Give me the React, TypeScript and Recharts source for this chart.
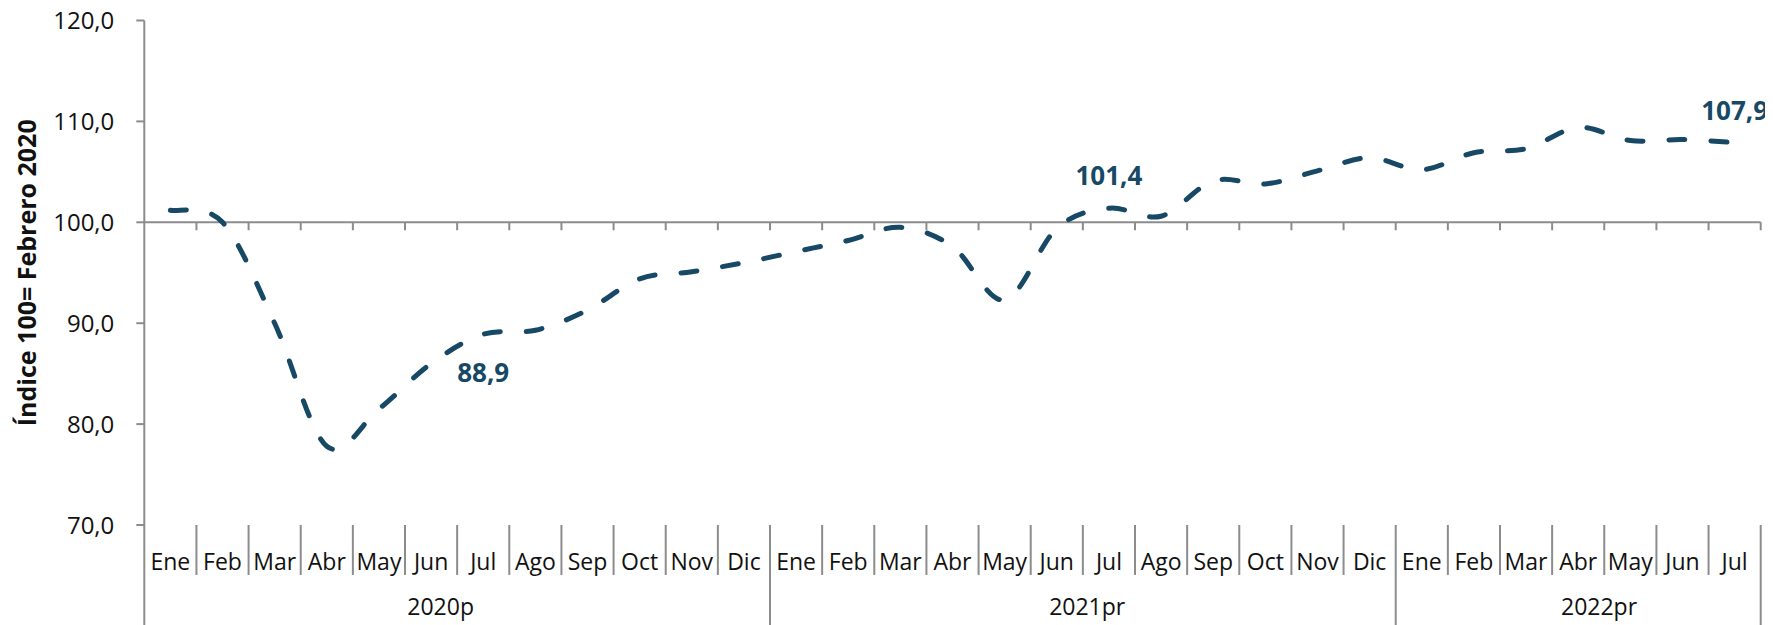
import React from 'react';
import { LineChart, Line, XAxis, YAxis, ReferenceLine, LabelList, Label } from 'recharts';

// ---- data ----
const monthNames = ['Ene', 'Feb', 'Mar', 'Abr', 'May', 'Jun', 'Jul', 'Ago', 'Sep', 'Oct', 'Nov', 'Dic'];
const yearLabels = ['2020p', '2021pr', '2022pr'];
const monthsPerYear = [12, 12, 7];
const values2020 = [101.2, 100.0, 90.0, 77.8, 81.5, 86.0, 88.9, 89.3, 91.3, 94.4, 95.1, 96.0];
const values2021 = [97.1, 98.2, 99.5, 97.6, 92.3, 99.4, 101.4, 100.6, 104.1, 103.8, 105.1, 106.4];
const values2022 = [105.2, 106.9, 107.3, 109.4, 108.1, 108.2, 107.9];
const yTicks = [70, 80, 90, 100, 110, 120];
const labeledPoints = [
  { index: 6, text: '88,9', pos: 'below' },
  { index: 18, text: '101,4', pos: 'above' },
  { index: 30, text: '107,9', pos: 'above' },
];
const yAxisTitle = 'Índice 100= Febrero 2020';

// ---- derived ----
const values = [...values2020, ...values2021, ...values2022];
const monthLabels = monthsPerYear.flatMap((n) => monthNames.slice(0, n));
const data = values.map((v, i) => {
  const lp = labeledPoints.find((p) => p.index === i);
  return { idx: i, value: v, label: lp ? lp.text : null, pos: lp ? lp.pos : null };
});
const yearBounds: number[] = [-0.5];
{
  let acc = 0;
  monthsPerYear.forEach((n) => {
    acc += n;
    yearBounds.push(acc - 0.5);
  });
}
const yearCenters = monthsPerYear.map((_, k) => (yearBounds[k] + yearBounds[k + 1]) / 2);
const allBounds = values.map((_, i) => i + 0.5);
const monthBounds = allBounds.filter((b) => !yearBounds.includes(b));

const LINE_COLOR = '#174865';
const AXIS_COLOR = '#8c8c8c';
const TEXT_COLOR = '#111111';
const AXIS_MIN = 70;
const SEP_MONTH_END = 65.05;
const SEP_YEAR_END = 59.8;
const TICK_END = 99.21;

// Excel-like smoothing (Catmull-Rom bezier)
const excelCurve = (context: any) => {
  let pts: number[][] = [];
  return {
    areaStart() {},
    areaEnd() {},
    lineStart() {
      pts = [];
    },
    point(x: number, y: number) {
      pts.push([+x, +y]);
    },
    lineEnd() {
      const n = pts.length;
      if (!n) return;
      context.moveTo(pts[0][0], pts[0][1]);
      for (let i = 0; i < n - 1; i++) {
        const p0 = pts[i - 1] || pts[i];
        const p1 = pts[i];
        const p2 = pts[i + 1];
        const p3 = pts[i + 2] || p2;
        context.bezierCurveTo(
          p1[0] + (p2[0] - p0[0]) / 6,
          p1[1] + (p2[1] - p0[1]) / 6,
          p2[0] - (p3[0] - p1[0]) / 6,
          p2[1] - (p3[1] - p1[1]) / 6,
          p2[0],
          p2[1]
        );
      }
    },
  };
};

const MonthTick = (props: any) => {
  const { x, y, payload } = props;
  return (
    <text x={x} y={y + 45} textAnchor="middle" fontSize={23} fill={TEXT_COLOR}>
      {monthLabels[payload.value]}
    </text>
  );
};

const YearTick = (props: any) => {
  const { x, y, payload } = props;
  const k = yearCenters.indexOf(payload.value);
  return (
    <text x={x} y={y + 40} textAnchor="middle" fontSize={23} fill={TEXT_COLOR}>
      {yearLabels[k]}
    </text>
  );
};

const renderYTitle = (props: any) => {
  const vb = props.viewBox;
  const cx = vb.x + 22;
  const cy = vb.y + vb.height / 2;
  return (
    <text
      x={cx}
      y={cy}
      transform={`rotate(-90, ${cx}, ${cy})`}
      textAnchor="middle"
      fontWeight={700}
      fontSize={25}
      fill={TEXT_COLOR}
    >
      {yAxisTitle}
    </text>
  );
};

const renderPointLabel = (props: any) => {
  const { x, y, value, index } = props;
  if (!value) return null;
  const pos = data[index] ? data[index].pos : 'above';
  const ty = pos === 'below' ? y + 48 : y - 23;
  return (
    <text x={x} y={ty} textAnchor="middle" fontWeight={700} fontSize={26} fill={LINE_COLOR}>
      {value}
    </text>
  );
};

const fmt = (v: number) => v.toFixed(1).replace('.', ',');

export default function App() {
  return (
    <div
      style={{
        width: 1773,
        height: 625,
        marginTop: -8,
        marginLeft: -8,
        fontFamily: '"Open Sans", sans-serif',
      }}
    >
      <LineChart
        width={1773}
        height={625}
        data={data}
        margin={{ top: 20.5, right: 12.3, left: 14.3, bottom: 0 }}
      >
        <XAxis
          dataKey="idx"
          type="number"
          domain={[-0.5, 30.5]}
          ticks={data.map((d) => d.idx)}
          interval={0}
          tickLine={false}
          axisLine={false}
          tickSize={0}
          tickMargin={0}
          height={50}
          tick={<MonthTick />}
        />
        <XAxis
          xAxisId="year"
          type="number"
          domain={[-0.5, 30.5]}
          ticks={yearCenters}
          interval={0}
          tickLine={false}
          axisLine={false}
          tickSize={0}
          tickMargin={0}
          height={50}
          tick={<YearTick />}
        />
        <YAxis
          domain={[70, 120]}
          ticks={yTicks}
          interval={0}
          width={130}
          tickFormatter={fmt}
          axisLine={{ stroke: AXIS_COLOR, strokeWidth: 2 }}
          tickLine={{ stroke: AXIS_COLOR, strokeWidth: 2 }}
          tickSize={8}
          tickMargin={22}
          tick={{ fill: TEXT_COLOR, fontSize: 24 }}
        >
          <Label content={renderYTitle} />
        </YAxis>
        <ReferenceLine y={100} stroke={AXIS_COLOR} strokeWidth={2} />
        {allBounds.map((b) => (
          <ReferenceLine
            key={'t' + b}
            segment={[{ x: b, y: 100 }, { x: b, y: TICK_END }]}
            stroke={AXIS_COLOR}
            strokeWidth={2}
            ifOverflow="visible"
          />
        ))}
        {monthBounds.map((b) => (
          <ReferenceLine
            key={'m' + b}
            segment={[{ x: b, y: AXIS_MIN }, { x: b, y: SEP_MONTH_END }]}
            stroke={AXIS_COLOR}
            strokeWidth={2}
            ifOverflow="visible"
          />
        ))}
        {yearBounds.map((b) => (
          <ReferenceLine
            key={'y' + b}
            segment={[{ x: b, y: AXIS_MIN }, { x: b, y: SEP_YEAR_END }]}
            stroke={AXIS_COLOR}
            strokeWidth={2}
            ifOverflow="visible"
          />
        ))}
        <Line
          dataKey="value"
          type={excelCurve as any}
          stroke={LINE_COLOR}
          strokeWidth={5}
          strokeDasharray="16 26"
          strokeLinecap="round"
          dot={false}
          activeDot={false}
          isAnimationActive={false}
        >
          <LabelList dataKey="label" content={renderPointLabel} />
        </Line>
      </LineChart>
    </div>
  );
}
